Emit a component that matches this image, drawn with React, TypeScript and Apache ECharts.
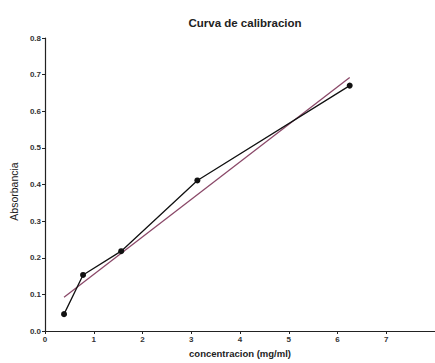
import React, { useEffect, useRef } from "react";
import * as echarts from "echarts";

const concentracion = [0.39, 0.78, 1.5625, 3.125, 6.25];
const absorbancia = [0.046, 0.153, 0.218, 0.411, 0.67];
const regresionX = [0.39, 6.25];
const regresionY = [0.092, 0.692];
const xTicks = [0, 1, 2, 3, 4, 5, 6, 7, 8];
const yTicks = [0, 0.1, 0.2, 0.3, 0.4, 0.5, 0.6, 0.7, 0.8];

export default function App() {
  const ref = useRef<HTMLDivElement>(null);
  useEffect(() => {
    if (!ref.current) return;
    const chart = echarts.init(ref.current, null, { renderer: "svg" });
    const font = "Liberation Sans, Arial, sans-serif";
    chart.setOption({
      animation: false,
      backgroundColor: "#fff",
      title: {
        text: "Curva de calibracion",
        left: 240,
        top: 12,
        textAlign: "center",
        textStyle: { fontFamily: font, fontSize: 11.5, fontWeight: "bold", color: "#222" },
      },
      grid: { left: 43, right: 0, top: 38, bottom: 28 },
      xAxis: {
        type: "value",
        min: xTicks[0],
        max: xTicks[xTicks.length - 1],
        interval: 1,
        name: "concentracion (mg/ml)",
        nameLocation: "middle",
        nameGap: 17,
        nameTextStyle: { fontFamily: font, fontSize: 9.5, fontWeight: "bold", color: "#222" },
        axisLine: { lineStyle: { color: "#222", width: 1.2 } },
        axisTick: { show: true, length: 3, lineStyle: { color: "#222" } },
        axisLabel: {
          fontFamily: font,
          fontSize: 8,
          fontWeight: "bold",
          color: "#333",
          margin: 4,
          showMaxLabel: false,
        },
        splitLine: { show: false },
      },
      yAxis: {
        type: "value",
        min: yTicks[0],
        max: yTicks[yTicks.length - 1],
        interval: 0.1,
        name: "Absorbancia",
        nameLocation: "middle",
        nameGap: 20,
        nameTextStyle: { fontFamily: font, fontSize: 10.5, color: "#222", padding: [0, 14, 0, 0] },
        axisLine: { show: true, lineStyle: { color: "#222", width: 1.2 } },
        axisTick: { show: true, length: 3, lineStyle: { color: "#222" } },
        axisLabel: {
          fontFamily: font,
          fontSize: 8,
          fontWeight: "bold",
          color: "#333",
          margin: 4,
          formatter: (v: number) => v.toFixed(1),
        },
        splitLine: { show: false },
      },
      series: [
        {
          type: "line",
          data: regresionX.map((x, i) => [x, regresionY[i]]),
          showSymbol: false,
          symbol: "none",
          lineStyle: { color: "#8a4868", width: 1.3 },
          z: 2,
        },
        {
          type: "line",
          data: concentracion.map((x, i) => [x, absorbancia[i]]),
          symbol: "circle",
          symbolSize: 6,
          itemStyle: { color: "#111" },
          lineStyle: { color: "#111", width: 1.3 },
          z: 3,
        },
      ],
    });
    return () => chart.dispose();
  }, []);
  return <div ref={ref} style={{ width: 435, height: 363, position: "fixed", left: 0, top: 0 }} />;
}
